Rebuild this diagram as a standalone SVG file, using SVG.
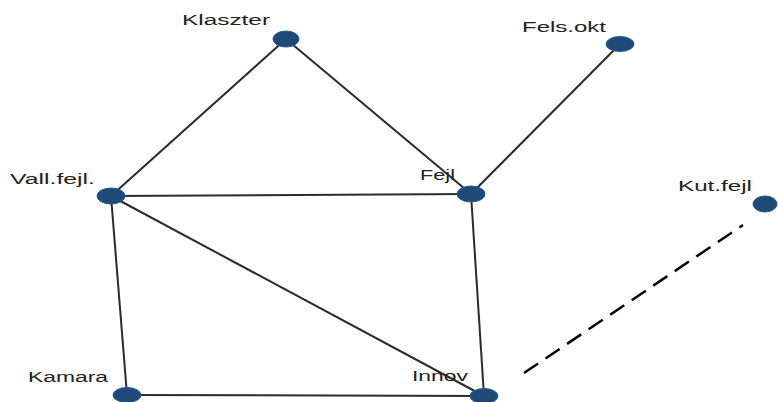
<svg xmlns="http://www.w3.org/2000/svg" width="778" height="402" viewBox="0 0 778 402">
<style>
.e{stroke:#2b2b2b;stroke-width:2;fill:none}
.d{stroke:#000;stroke-width:2.5;stroke-dasharray:17 9;fill:none}
.n{fill:#1f4a78;stroke:#2a5a8c;stroke-width:1}
.t{font-family:"Liberation Sans",Arial,sans-serif;font-size:14px;fill:#222}
</style>
<rect width="778" height="402" fill="#fff"/>
<g id="connectors">
<line class="e" x1="286" y1="39" x2="111" y2="196"/>
<line class="e" x1="286" y1="39" x2="471" y2="194"/>
<line class="e" x1="620" y1="44" x2="471" y2="194"/>
<line class="e" x1="111" y1="196" x2="471" y2="194"/>
<line class="e" x1="111" y1="196" x2="127" y2="395"/>
<line class="e" x1="111" y1="196" x2="484" y2="396"/>
<line class="e" x1="471" y1="194" x2="484" y2="396"/>
<line class="e" x1="127" y1="395" x2="484" y2="396"/>
<line class="d" x1="524" y1="373" x2="743" y2="225"/>
</g>
<g id="klaszter"><ellipse class="n" cx="286" cy="39" rx="13" ry="8"/><text class="t" x="182" y="25" textLength="88" lengthAdjust="spacingAndGlyphs">Klaszter</text></g>
<g id="felsokt"><ellipse class="n" cx="620" cy="44" rx="14" ry="7.5"/><text class="t" x="522" y="32" textLength="84" lengthAdjust="spacingAndGlyphs">Fels.okt</text></g>
<g id="valljejl"><ellipse class="n" cx="111" cy="196" rx="14" ry="8"/><text class="t" x="10" y="184" textLength="85" lengthAdjust="spacingAndGlyphs">Vall.fejl.</text></g>
<g id="fejl"><ellipse class="n" cx="471" cy="194" rx="14" ry="8"/><text class="t" x="420" y="180" textLength="35" lengthAdjust="spacingAndGlyphs">Fejl</text></g>
<g id="kutfejl"><ellipse class="n" cx="765" cy="204" rx="12" ry="8"/><text class="t" x="678" y="191" textLength="74" lengthAdjust="spacingAndGlyphs">Kut.fejl</text></g>
<g id="kamara"><ellipse class="n" cx="127" cy="395" rx="14" ry="7.5"/><text class="t" x="28" y="382" textLength="80" lengthAdjust="spacingAndGlyphs">Kamara</text></g>
<g id="innov"><ellipse class="n" cx="484" cy="396" rx="14" ry="7.5"/><text class="t" x="412" y="381" textLength="56" lengthAdjust="spacingAndGlyphs">Innov</text></g>
</svg>
